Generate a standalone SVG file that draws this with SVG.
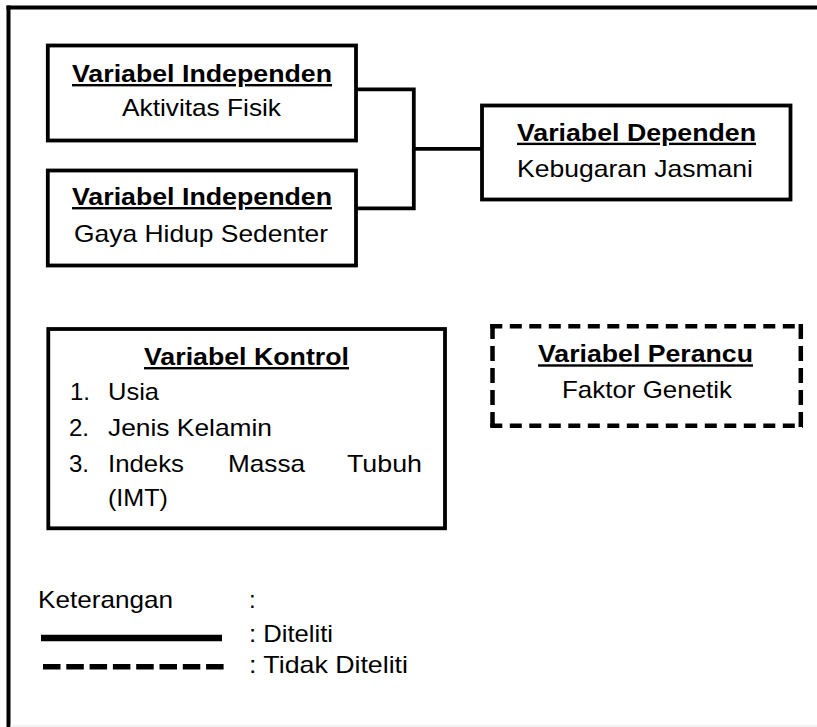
<svg xmlns="http://www.w3.org/2000/svg" width="817" height="727" viewBox="0 0 817 727">
<style>
  .box{fill:#fff;stroke:#000;stroke-width:3.8}
  .dash{fill:none;stroke:#000;stroke-width:4.5}
  .dh{stroke-dasharray:12 7.5}
  .dv{stroke-dasharray:15 7}
  .conn{fill:none;stroke:#000;stroke-width:3.8}
  text{font-family:"Liberation Sans",Arial,sans-serif;font-size:24px;fill:#000}
  .t{font-weight:bold;text-decoration:underline}
</style>
<rect x="0" y="0" width="817" height="727" fill="#fff"/>
<g id="frame">
  <line x1="6.5" y1="7.5" x2="817" y2="7.5" stroke="#000" stroke-width="4"/>
  <line x1="8.5" y1="5.5" x2="8.5" y2="727" stroke="#000" stroke-width="4"/>
  <line x1="10" y1="726" x2="817" y2="726" stroke="#e6e6e6" stroke-width="1"/>
</g>
<g id="connectors">
  <path class="conn" d="M356,89.3 H413.8 V208.3 H356"/>
  <path class="conn" d="M413.8,148.8 H482"/>
</g>
<g id="node-aktivitas">
  <rect class="box" x="47.8" y="45.5" width="308.2" height="95"/>
  <text class="t" x="72" y="82" textLength="260" lengthAdjust="spacingAndGlyphs">Variabel Independen</text>
  <text x="122" y="116" textLength="159" lengthAdjust="spacingAndGlyphs">Aktivitas Fisik</text>
</g>
<g id="node-gaya">
  <rect class="box" x="47.8" y="170.5" width="308.2" height="95"/>
  <text class="t" x="72" y="205" textLength="260" lengthAdjust="spacingAndGlyphs">Variabel Independen</text>
  <text x="74" y="241.5" textLength="254" lengthAdjust="spacingAndGlyphs">Gaya Hidup Sedenter</text>
</g>
<g id="node-dependen">
  <rect class="box" x="482" y="105.5" width="308.5" height="94"/>
  <text class="t" x="517" y="140.7" textLength="239" lengthAdjust="spacingAndGlyphs">Variabel Dependen</text>
  <text x="517" y="176.7" textLength="236" lengthAdjust="spacingAndGlyphs">Kebugaran Jasmani</text>
</g>
<g id="node-kontrol">
  <rect class="box" x="48.3" y="329" width="396.7" height="199.3"/>
  <text class="t" x="144" y="365" textLength="205" lengthAdjust="spacingAndGlyphs">Variabel Kontrol</text>
  <text x="70" y="400">1.</text>
  <text x="108" y="400" textLength="51" lengthAdjust="spacingAndGlyphs">Usia</text>
  <text x="69" y="436">2.</text>
  <text x="108" y="436" textLength="164" lengthAdjust="spacingAndGlyphs">Jenis Kelamin</text>
  <text x="69" y="471.7">3.</text>
  <text x="108" y="471.7" textLength="76" lengthAdjust="spacingAndGlyphs">Indeks</text>
  <text x="228" y="471.7" textLength="77" lengthAdjust="spacingAndGlyphs">Massa</text>
  <text x="347" y="471.7" textLength="75" lengthAdjust="spacingAndGlyphs">Tubuh</text>
  <text x="108" y="505.5" textLength="60" lengthAdjust="spacingAndGlyphs">(IMT)</text>
</g>
<g id="node-perancu">
  <rect x="492.5" y="326.3" width="308.3" height="99.4" fill="#fff"/>
  <path class="dash dh" d="M490.3,326.3 H803"/>
  <path class="dash dh" d="M490.3,425.7 H803"/>
  <path class="dash dv" d="M492.5,324 V428"/>
  <path class="dash dv" d="M800.8,324 V428"/>
  <text class="t" x="538" y="362.3" textLength="215" lengthAdjust="spacingAndGlyphs">Variabel Perancu</text>
  <text x="562" y="398" textLength="170" lengthAdjust="spacingAndGlyphs">Faktor Genetik</text>
</g>
<g id="legend">
  <text x="38" y="607.5" textLength="135" lengthAdjust="spacingAndGlyphs">Keterangan</text>
  <text x="249" y="607.5">:</text>
  <line x1="41" y1="638" x2="222" y2="638" stroke="#000" stroke-width="6.5"/>
  <text x="249" y="641.5" textLength="84" lengthAdjust="spacingAndGlyphs">: Diteliti</text>
  <line x1="43" y1="666.7" x2="224" y2="666.7" stroke="#000" stroke-width="5.5" stroke-dasharray="17.5 5.8"/>
  <text x="249" y="673" textLength="159" lengthAdjust="spacingAndGlyphs">: Tidak Diteliti</text>
</g>
</svg>
